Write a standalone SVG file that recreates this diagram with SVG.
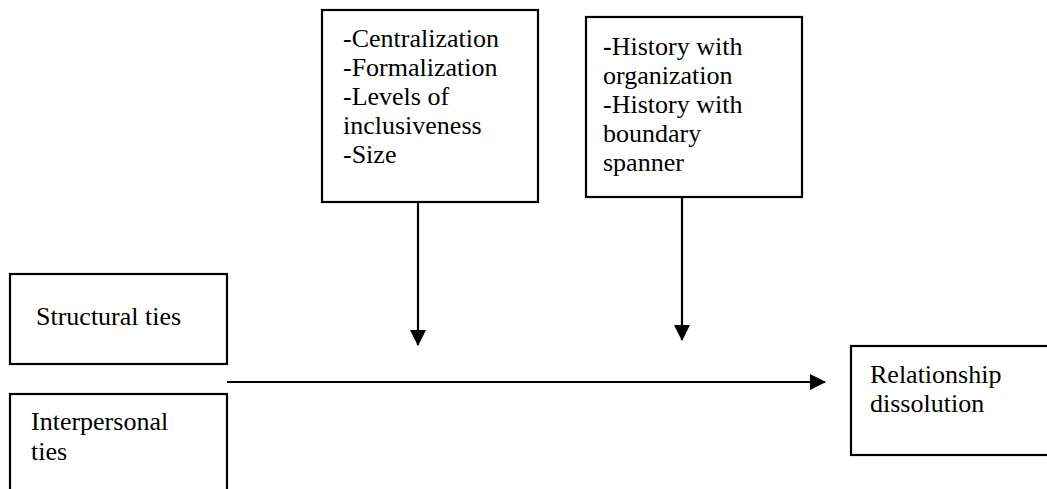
<svg xmlns="http://www.w3.org/2000/svg" width="1047" height="489" viewBox="0 0 1047 489">
<style>
.box{fill:#fff;stroke:#000;stroke-width:2.2}
.t{font-family:'Liberation Serif','Times New Roman',Times,serif;font-size:26px;fill:#000}
.c{stroke:#000;stroke-width:2.2;fill:none}
</style>
<defs>
<marker id="ah" markerUnits="userSpaceOnUse" markerWidth="16" markerHeight="16" viewBox="0 0 16 16" refX="15" refY="8" orient="auto">
<path d="M0,0 L16,8 L0,16 Z" fill="#000"/>
</marker>
</defs>
<rect width="1047" height="489" fill="#fff"/>
<g id="connectors">
<line class="c" x1="418" y1="202" x2="418" y2="345" marker-end="url(#ah)"/>
<line class="c" x1="682" y1="197" x2="682" y2="340" marker-end="url(#ah)"/>
<line class="c" x1="227" y1="382" x2="825" y2="382" marker-end="url(#ah)"/>
</g>
<g id="moderators1">
<rect class="box" x="322" y="10" width="216" height="192"/>
<text class="t" font-family="Liberation Serif" x="343" y="47">-Centralization</text>
<text class="t" font-family="Liberation Serif" x="343" y="76">-Formalization</text>
<text class="t" font-family="Liberation Serif" x="343" y="105">-Levels of</text>
<text class="t" font-family="Liberation Serif" x="343" y="134">inclusiveness</text>
<text class="t" font-family="Liberation Serif" x="343" y="163">-Size</text>
</g>
<g id="moderators2">
<rect class="box" x="586" y="17" width="216" height="180"/>
<text class="t" font-family="Liberation Serif" x="603" y="55"><tspan font-weight="bold">-</tspan>History with</text>
<text class="t" font-family="Liberation Serif" x="603" y="84">organization</text>
<text class="t" font-family="Liberation Serif" x="603" y="113">-History with</text>
<text class="t" font-family="Liberation Serif" x="603" y="142">boundary</text>
<text class="t" font-family="Liberation Serif" x="603" y="171">spanner</text>
</g>
<g id="structural">
<rect class="box" x="10" y="274" width="217" height="90"/>
<text class="t" font-family="Liberation Serif" x="36" y="325">Structural ties</text>
</g>
<g id="interpersonal">
<rect class="box" x="10" y="394" width="217" height="110"/>
<text class="t" font-family="Liberation Serif" x="31" y="430">Interpersonal</text>
<text class="t" font-family="Liberation Serif" x="31" y="460">ties</text>
</g>
<g id="dissolution">
<rect class="box" x="851" y="346" width="210" height="109"/>
<text class="t" font-family="Liberation Serif" x="870" y="383">Relationship</text>
<text class="t" font-family="Liberation Serif" x="870" y="412">dissolution</text>
</g>
</svg>
